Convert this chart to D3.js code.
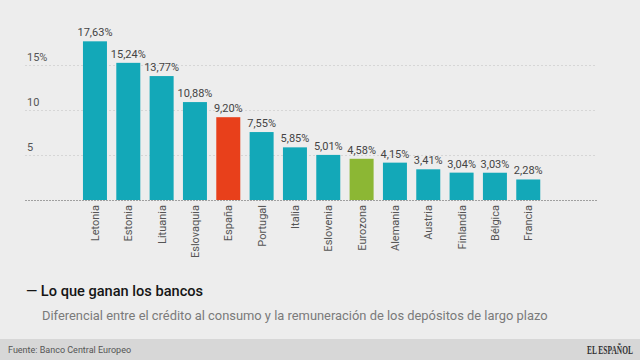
<!DOCTYPE html>
<html><head><meta charset="utf-8">
<script src="https://cdn.jsdelivr.net/npm/d3@7"></script>
<style>
html,body{margin:0;padding:0;background:#ededed;}
svg{display:block;font-family:Roboto,"Noto Sans",sans-serif;}
</style></head>
<body>
<svg id="c" width="640" height="360"></svg>
<script>
const categories = ["Letonia","Estonia","Lituania","Eslovaquia","España","Portugal","Italia","Eslovenia","Eurozona","Alemania","Austria","Finlandia","Bélgica","Francia"];
const values = [17.63,15.24,13.77,10.88,9.20,7.55,5.85,5.01,4.58,4.15,3.41,3.04,3.03,2.28];
const highlights = {"España":"#e8401b","Eurozona":"#8cb734"};
const yTicks = [5,10,15];
const yTickLabels = ["5","10","15%"];
const title = "— Lo que ganan los bancos";
const subtitle = "Diferencial entre el crédito al consumo y la remuneración de los depósitos de largo plazo";
const source = "Fuente: Banco Central Europeo";
const brand = "EL ESPAÑOL";

const svg = d3.select("#c");
svg.append("rect").attr("width",640).attr("height",360).attr("fill","#ededed");

const x = d3.scaleBand().domain(categories)
  .range([78.3, 78.3 + 33.33*categories.length]).paddingInner(0.28).paddingOuter(0.14);
const y = d3.scaleLinear().domain([0,15]).range([200,65]);

const gridX0 = 25, gridX1 = 597;
const g = svg.append("g");
g.selectAll("line.grid").data(yTicks).join("line")
  .attr("x1",gridX0).attr("x2",gridX1)
  .attr("y1",d=>y(d)+0.5).attr("y2",d=>y(d)+0.5)
  .attr("stroke","#d6d6d6").attr("stroke-width",1).attr("stroke-dasharray","2,2");
g.selectAll("text.yl").data(yTicks).join("text")
  .attr("x",27).attr("y",d=>y(d)-4)
  .attr("font-size",11).attr("fill","#555")
  .text((d,i)=>yTickLabels[i]);

g.selectAll("rect.bar").data(values).join("rect")
  .attr("x",(d,i)=>x(categories[i])).attr("width",x.bandwidth())
  .attr("y",d=>y(d)).attr("height",d=>y(0)-y(d))
  .attr("fill",(d,i)=>highlights[categories[i]]||"#13a8b8");

g.append("line").attr("x1",gridX0).attr("x2",gridX1).attr("y1",y(0)+0.5).attr("y2",y(0)+0.5)
  .attr("stroke","#a0a0a0").attr("stroke-width",1).attr("stroke-dasharray","2,1");

const fmt = v => v.toFixed(2).replace(".",",")+"%";
g.selectAll("text.val").data(values).join("text")
  .attr("x",(d,i)=>x(categories[i])+x.bandwidth()/2).attr("y",d=>y(d)-5)
  .attr("text-anchor","middle").attr("font-size",11).attr("fill","#444")
  .text(d=>fmt(d));

g.selectAll("text.cat").data(categories).join("text")
  .attr("transform",d=>`translate(${x(d)+x.bandwidth()/2+4},205) rotate(-90)`)
  .attr("text-anchor","end").attr("font-size",11).attr("fill","#555")
  .text(d=>d);

svg.append("text").attr("x",26).attr("y",296).attr("font-size",14.6).attr("font-weight",500)
  .attr("fill","#151515").text(title);
svg.append("text").attr("x",42).attr("y",320).attr("font-size",12.9).attr("fill","#7a7a7a")
  .text(subtitle);

svg.append("rect").attr("x",0).attr("y",339).attr("width",640).attr("height",21).attr("fill","#d7d7d7");
svg.append("text").attr("x",8).attr("y",353).attr("font-size",9).attr("fill","#555").text(source);
const b = svg.append("text").attr("x",0).attr("y",0)
  .attr("font-family","'Liberation Serif',serif").attr("font-weight","bold").attr("font-size",13)
  .attr("fill","#333").text(brand);
const bw = b.node().getComputedTextLength();
const sx = 46/bw;
b.attr("transform",`translate(${633-46},354) scale(${sx},1)`);
</script>
</body></html>
